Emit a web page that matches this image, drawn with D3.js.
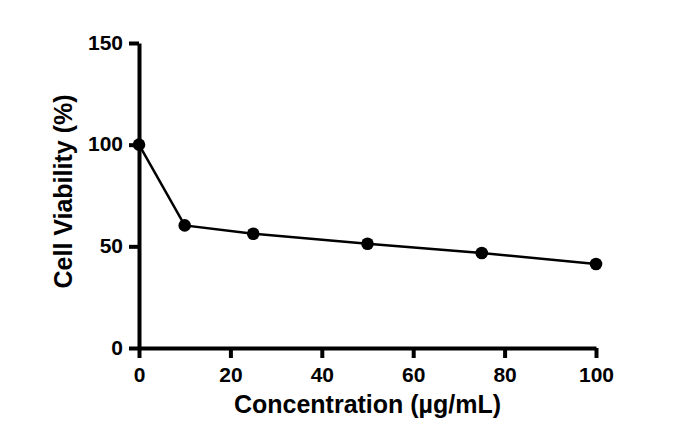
<!DOCTYPE html>
<html>
<head>
<meta charset="utf-8">
<script src="https://cdn.jsdelivr.net/npm/d3@7"></script>
<style>
body { margin: 0; background: #fff; }
text { font-family: "Liberation Sans", Arial, sans-serif; font-weight: bold; }
</style>
</head>
<body>
<svg class="chart" width="682" height="442"></svg>
<script>
var concentration = [0, 10, 25, 50, 75, 100],
	viability = [100, 60.3, 56.2, 51.3, 46.7, 41.3],
	xTicks = [0, 20, 40, 60, 80, 100],
	yTicks = [0, 50, 100, 150];

var svg = d3.select(".chart"),
	margin = {top: 43, right: 86, bottom: 94, left: 139},
	width = +svg.attr("width") - margin.left - margin.right,
	height = +svg.attr("height") - margin.top - margin.bottom,
	g = svg.append("g").attr("transform", "translate(" + margin.left + "," + margin.top + ")");

var x = d3.scaleLinear().domain([0, 100]).range([0, width]);
var y = d3.scaleLinear().domain([0, 150]).range([height, 0]);

var line = d3.line()
	.x(function(d, i) { return x(concentration[i]); })
	.y(function(d) { return y(d); });

g.append("path")
	.datum(viability)
	.attr("fill", "none")
	.attr("stroke", "#000")
	.attr("stroke-width", 2.5)
	.attr("d", line);

g.selectAll("circle")
	.data(viability)
	.enter().append("circle")
	.attr("cx", function(d, i) { return x(concentration[i]); })
	.attr("cy", function(d) { return y(d); })
	.attr("r", 6.3)
	.attr("fill", "#000");

var bottom = g.append("g")
	.attr("transform", "translate(0," + height + ")")
	.call(d3.axisBottom(x).tickValues(xTicks).tickSize(10).tickPadding(9).tickSizeOuter(0));
var left = g.append("g")
	.call(d3.axisLeft(y).tickValues(yTicks).tickSize(10).tickPadding(6).tickSizeOuter(0));

[bottom, left].forEach(function(ax) {
	ax.select(".domain").attr("stroke", "#000").attr("stroke-width", 4);
	ax.selectAll(".tick line").attr("stroke", "#000").attr("stroke-width", 4);
	ax.selectAll("text")
		.attr("fill", "#000")
		.style("font-size", "21px")
		.style("font-family", "'Liberation Sans', Arial, sans-serif")
		.style("font-weight", "bold");
});
left.selectAll("text").attr("dy", "0.3em");

g.append("text")
	.attr("x", width / 2)
	.attr("y", height + 65)
	.attr("text-anchor", "middle")
	.style("font-size", "25px")
	.text("Concentration (\u00b5g/mL)");

g.append("text")
	.attr("transform", "translate(-67," + (height / 2 - 4) + ") rotate(-90)")
	.attr("text-anchor", "middle")
	.style("font-size", "25px")
	.text("Cell Viability (%)");
</script>
</body>
</html>
